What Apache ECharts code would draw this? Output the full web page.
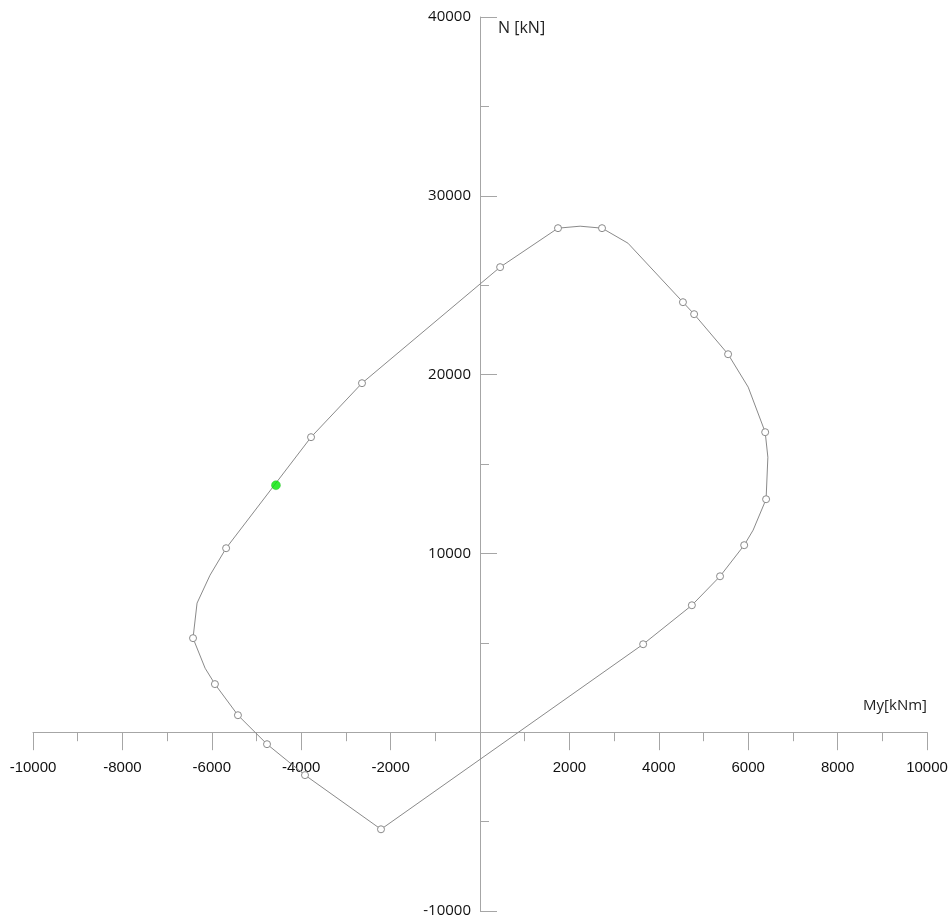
<!DOCTYPE html>
<html>
<head>
<meta charset="utf-8">
<title>N-My interaction diagram</title>
<script src="https://cdn.jsdelivr.net/npm/echarts@6/dist/echarts.min.js"></script>
<style>
  html, body { margin: 0; padding: 0; background: #ffffff; }
  #chart { width: 950px; height: 919px; }
</style>
</head>
<body>
<div id="chart"></div>
<script>
// Interaction curve vertices, in drawing order (My in kNm, N in kN)
const momentMy = [1745, 2240, 2730, 3310, 4540, 4790, 5550, 6000, 6380, 6440, 6400, 6110, 5910, 5370, 4740, 3650,
  -2215, -3915, -4765, -5415, -5930, -6150, -6420, -6330, -6040, -5680, -3780, -2640, 450];
const axialN = [28190, 28300, 28190, 27350, 24050, 23380, 21140, 19300, 16780, 15380, 13030, 11300, 10460, 8720, 7100, 4920,
  -5430, -2400, -670, 950, 2690, 3580, 5260, 7220, 8780, 10290, 16500, 19520, 26010];
// 1 = vertex drawn with a hollow circle marker
const hasMarker = [1, 0, 1, 0, 1, 1, 1, 0, 1, 0, 1, 0, 1, 1, 1, 1,
  1, 1, 1, 1, 1, 0, 1, 0, 0, 1, 1, 1, 1];

// Design load point
const loadMy = [-4565];
const loadN = [13815];

// Axis ranges and tick spacing
const xMin = -10000, xMax = 10000, xStep = 2000;
const yMin = -10000, yMax = 40000, yStep = 10000;

// Plot area
const W = 950, H = 919;
const gridBox = { left: 33, right: 23, top: 17, bottom: 8 };
const plotW = W - gridBox.left - gridBox.right;
const plotH = H - gridBox.top - gridBox.bottom;
// Axes cross at the origin: shift them in from the grid edges
const xAxisShift = -plotH * (0 - yMin) / (yMax - yMin);
const yAxisShift = -plotW * (0 - xMin) / (xMax - xMin);

const curveData = momentMy.map((m, i) => ({
  value: [m, axialN[i]],
  symbol: hasMarker[i] ? 'circle' : 'none'
}));
// close the loop
curveData.push({ value: [momentMy[0], axialN[0]], symbol: 'none' });

const loadData = loadMy.map((m, i) => [m, loadN[i]]);

const axisGrey = '#a6a6a6';
const labelFont = 'Liberation Sans, Arial, sans-serif';
const nameFont = 'Open Sans, Noto Sans, sans-serif';
const hideZero = v => (v === 0 ? '' : String(v));

const chart = echarts.init(document.getElementById('chart'), null, { renderer: 'canvas' });
chart.setOption({
  animation: false,
  backgroundColor: '#ffffff',
  grid: Object.assign({ containLabel: false, outerBoundsMode: 'none' }, gridBox),
  xAxis: {
    type: 'value',
    position: 'bottom',
    offset: xAxisShift,
    min: xMin, max: xMax, interval: xStep,
    name: 'My[kNm]',
    nameLocation: 'end',
    nameGap: 0,
    nameTextStyle: {
      fontFamily: nameFont, fontSize: 15, color: '#222',
      align: 'right', verticalAlign: 'bottom', padding: [0, 0, 19, 0]
    },
    axisLine: { onZero: false, lineStyle: { color: axisGrey, width: 1 } },
    axisTick: { show: true, length: 18, lineStyle: { color: axisGrey } },
    minorTick: { show: true, splitNumber: 2, length: 9, lineStyle: { color: axisGrey } },
    splitLine: { show: false },
    axisLabel: { margin: 28, fontFamily: labelFont, fontSize: 15, color: '#111', formatter: hideZero }
  },
  yAxis: {
    type: 'value',
    position: 'left',
    offset: yAxisShift,
    min: yMin, max: yMax, interval: yStep,
    name: 'N [kN]',
    nameLocation: 'end',
    nameGap: -11,
    nameTextStyle: {
      fontFamily: nameFont, fontSize: 16, color: '#222',
      align: 'left', verticalAlign: 'middle', padding: [0, 0, 0, 18]
    },
    axisLine: { onZero: false, lineStyle: { color: axisGrey, width: 1 } },
    axisTick: { show: true, inside: true, length: 17, lineStyle: { color: axisGrey } },
    minorTick: { show: true, splitNumber: 2, length: 9, lineStyle: { color: axisGrey } },
    splitLine: { show: false },
    axisLabel: { margin: 9, fontFamily: nameFont, fontSize: 15, color: '#111', formatter: hideZero }
  },
  series: [
    {
      name: 'Interaction curve',
      type: 'line',
      data: curveData,
      symbolSize: 7,
      showAllSymbol: true,
      lineStyle: { color: '#8a8a8a', width: 1 },
      itemStyle: { color: '#ffffff', borderColor: '#8a8a8a', borderWidth: 1 },
      emphasis: { disabled: true },
      z: 2
    },
    {
      name: 'Load',
      type: 'scatter',
      data: loadData,
      symbol: 'circle',
      symbolSize: 9,
      itemStyle: { color: '#00e600', borderColor: '#2fbf2f', borderWidth: 0.5 },
      emphasis: { disabled: true },
      z: 3
    }
  ]
});
</script>
</body>
</html>
